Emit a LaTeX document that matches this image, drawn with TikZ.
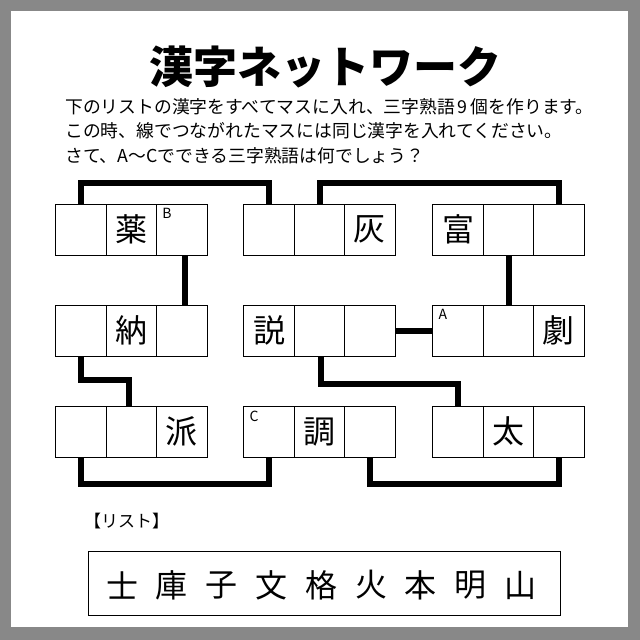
\documentclass[tikz,border=0pt]{standalone}
\usepackage{fontspec}
\setmainfont{Noto Sans CJK JP}
\definecolor{frame}{HTML}{888888}
\begin{document}
\begin{tikzpicture}[x=1pt,y=-1pt,
  cell/.style={draw,line width=1pt,minimum width=50.5pt,minimum height=51pt,inner sep=0pt,font=\fontsize{32}{32}\selectfont},
  link/.style={line width=6pt,line cap=butt,line join=miter},
  tag/.style={font=\fontsize{14}{14}\selectfont,anchor=north west,inner sep=0pt},
  body/.style={anchor=west,inner sep=0pt,font=\fontsize{17.8}{17.8}\selectfont}]
\useasboundingbox (0,0) rectangle (640,640);
\fill[frame] (0,0) rectangle (640,640);
\fill[white] (11,11) rectangle (628,627);
\node[font=\fontsize{44}{44}\selectfont\bfseries] (title) at (325,67) {漢字ネットワーク};
\node[body] (l1) at (65,107) {下のリストの漢字をすべてマスに入れ、三字熟語\,9\,個を作ります。};
\node[body] (l2) at (65,131) {この時、線でつながれたマスには同じ漢字を入れてください。};
\node[body] (l3) at (65,156) {さて、A〜Cでできる三字熟語は何でしょう？};
% grid
\foreach \g/\gx in {L/56,M/244,R/433}{
  \foreach \r/\ry in {1/204,2/305,3/406}{
    \foreach \c in {1,2,3}{
      \node[cell] (\g\r\c) at ({\gx+25.2+(\c-1)*50.3},{\ry+25.5}) {};
    }}}
\node at (L12) {\fontsize{32}{32}\selectfont 薬};
\node at (M13) {\fontsize{32}{32}\selectfont 灰};
\node at (R11) {\fontsize{32}{32}\selectfont 富};
\node at (L22) {\fontsize{32}{32}\selectfont 納};
\node at (M21) {\fontsize{32}{32}\selectfont 説};
\node at (R23) {\fontsize{32}{32}\selectfont 劇};
\node at (L33) {\fontsize{32}{32}\selectfont 派};
\node at (M32) {\fontsize{32}{32}\selectfont 調};
\node at (R32) {\fontsize{32}{32}\selectfont 太};
\node[tag] (tb) at ([shift={(6,5)}]L13.north west) {B};
\node[tag] (ta) at ([shift={(6,5)}]R21.north west) {A};
\node[tag] (tc) at ([shift={(6,5)}]M31.north west) {C};
% links
\draw[link] (L11.north) -- ++(0,-21) -| (M11.north);
\draw[link] (M12.north) -- ++(0,-21) -| (R13.north);
\draw[link] ([xshift=3pt]L13.south) -- ([xshift=3pt]L23.north);
\draw[link] (L21.south) -- ++(0,23) -| ([xshift=-3pt]L32.north);
\draw[link] (L31.south) -- ++(0,26) -| (M31.south);
\draw[link] (M23.east) -- (R21.west);
\draw[link] (R12.south) -- (R22.north);
\draw[link] ([xshift=1pt]M22.south) -- ++(0,27) -| (R31.north);
\draw[link] (M33.south) -- ++(0,26) -| (R33.south);
% list
\node[anchor=west,inner sep=0pt,font=\fontsize{17}{17}\selectfont] (lh) at (84,521) {【リスト】};
\draw[line width=1pt] (88,551) rectangle (560,615);
\foreach \k [count=\i] in {士,庫,子,文,格,火,本,明,山}{
  \node[font=\fontsize{32}{32}\selectfont] (k\i) at ({122+(\i-1)*49.8},585) {\k};
}
\end{tikzpicture}
\end{document}
